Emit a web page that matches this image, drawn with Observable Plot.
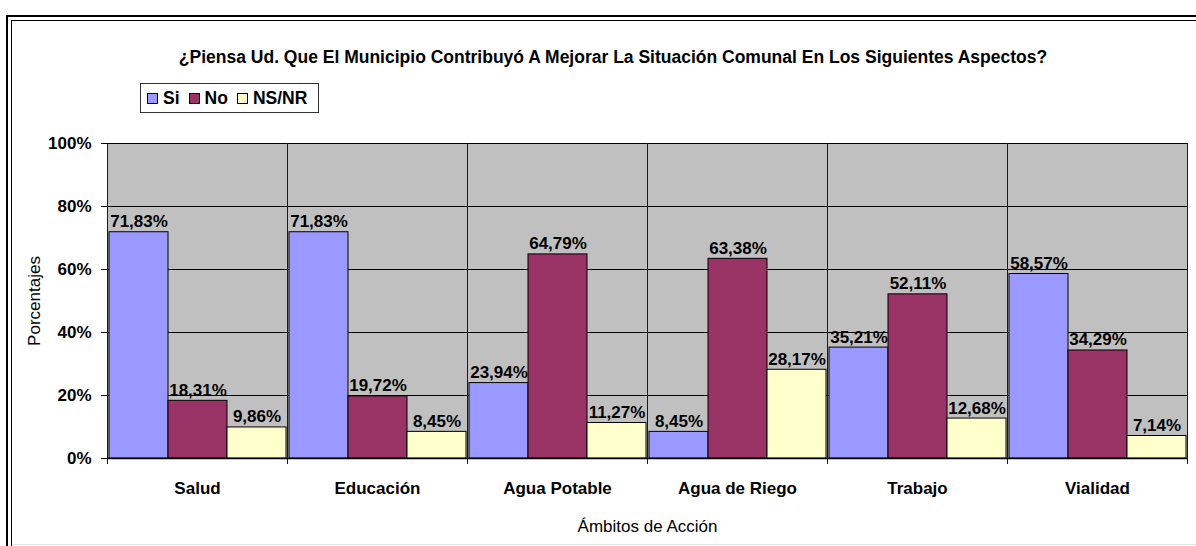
<!DOCTYPE html>
<html>
<head>
<meta charset="utf-8">
<script src="https://cdn.jsdelivr.net/npm/d3@7"></script>
<script src="https://cdn.jsdelivr.net/npm/@observablehq/plot@0.6"></script>
<style>
  html, body { margin: 0; padding: 0; background: #fff; }
  body { width: 1196px; height: 546px; position: relative; overflow: hidden; font-family: "Liberation Sans", Arial, sans-serif; }
  .outer { position: absolute; left: 6px; top: 15px; width: 1400px; height: 600px; border-top: 2px solid #000; border-left: 2px solid #000; }
  .inner { position: absolute; left: 11px; top: 20px; width: 1400px; height: 600px; border-top: 1px solid #000; border-left: 1px solid #000; }
  .bottomline { position: absolute; left: 12px; top: 544px; width: 1400px; height: 0; border-top: 1px solid #e4e4e4; }
  .title { position: absolute; left: 0; top: 47px; width: 1226px; text-align: center; font-weight: bold; font-size: 17.5px; color: #000; white-space: nowrap; }
  .legend { position: absolute; left: 140px; top: 83px; border: 1px solid #333; background: #fff; display: flex; align-items: center; padding-left: 6px; box-sizing: border-box; width: 179px; height: 30px; }
  .legend .item { display: flex; align-items: center; font-weight: bold; font-size: 17.5px; margin-right: 9px; }
  .legend .sw { width: 9px; height: 9px; border: 1px solid #000; margin-right: 5px; }
  #chart { position: absolute; left: 0; top: 125px; }
  #chart svg { overflow: visible; }
</style>
</head>
<body>
<div class="outer"></div>
<div class="inner"></div>
<div class="bottomline"></div>
<div class="title" id="title"></div>
<div class="legend" id="legend"></div>
<div id="chart"></div>
<script>
// ---- data ----
const categories = ["Salud", "Educación", "Agua Potable", "Agua de Riego", "Trabajo", "Vialidad"];
const series = ["Si", "No", "NS/NR"];
const siValues   = [71.83, 71.83, 23.94, 8.45, 35.21, 58.57];
const noValues   = [18.31, 19.72, 64.79, 63.38, 52.11, 34.29];
const nsnrValues = [9.86, 8.45, 11.27, 28.17, 12.68, 7.14];
const yTicks = [0, 20, 40, 60, 80, 100];
const seriesColors = ["#9999FF", "#993366", "#FFFFCC"];
const titleText = "¿Piensa Ud. Que El Municipio Contribuyó A Mejorar La Situación Comunal En Los Siguientes Aspectos?";
const xTitle = "Ámbitos de Acción";
const yTitle = "Porcentajes";

// ---- build table ----
const valuesBySeries = [siValues, noValues, nsnrValues];
const rows = [];
categories.forEach((c, i) => {
  series.forEach((s, j) => {
    rows.push({cat: c, serie: s, value: valuesBySeries[j][i] / 100});
  });
});
const fmt = v => (v * 100).toFixed(2).replace(".", ",") + "%";

document.getElementById("title").textContent = titleText;
const legend = document.getElementById("legend");
series.forEach((s, j) => {
  const it = document.createElement("div");
  it.className = "item";
  const sw = document.createElement("div");
  sw.className = "sw";
  sw.style.background = seriesColors[j];
  const tx = document.createElement("span");
  tx.textContent = s;
  it.appendChild(sw); it.appendChild(tx);
  legend.appendChild(it);
});

const chart = Plot.plot({
  width: 1196,
  height: 420,
  marginLeft: 106,
  marginRight: 9,
  marginTop: 18,
  marginBottom: 87,
  style: {fontFamily: "'Liberation Sans', Arial, sans-serif", color: "#000", background: "transparent"},
  fx: {domain: categories, padding: 0, label: null},
  x: {domain: series, paddingInner: 0, paddingOuter: 0.025, axis: null},
  y: {domain: [0, 1], label: null},
  color: {domain: series, range: seriesColors},
  marks: [
    Plot.frame({fill: "#C0C0C0", stroke: "#808080"}),
    Plot.gridY(yTicks.map(d => d / 100), {stroke: "#000", strokeOpacity: 1}),
    Plot.frame({anchor: "left", stroke: "#1a1a1a", insetBottom: -5}),
    Plot.frame({anchor: "right", stroke: "#1a1a1a", insetBottom: -5}),
    Plot.barY(rows, {fx: "cat", x: "serie", y: "value", fill: "serie", stroke: "#000", strokeWidth: 1}),
    Plot.text(rows, {fx: "cat", x: "serie", y: "value", text: d => fmt(d.value), lineAnchor: "bottom", dy: -5, fontWeight: "bold", fontSize: 17, fill: "#000"}),
    Plot.ruleY([0], {stroke: "#000", strokeWidth: 1.5}),
    Plot.axisY(yTicks.map(d => d / 100), {
      tickFormat: d => Math.round(d * 100) + "%",
      tickSize: 6, tickPadding: 10, fontSize: 17, fontWeight: "bold", stroke: "#000",
      label: yTitle, labelAnchor: "center", labelArrow: "none", labelOffset: 80
    }),
    Plot.ruleX([0], {stroke: "#000", strokeWidth: 1.5, facet: "exclude", fx: null}),
    Plot.axisFx({
      anchor: "bottom", tickSize: 0, tickPadding: 23, fontSize: 17, fontWeight: "bold",
      label: xTitle, labelAnchor: "center", labelArrow: "none", labelOffset: 73
    })
  ]
});
document.getElementById("chart").appendChild(chart);

// axis titles in regular weight
chart.querySelectorAll('g[aria-label="y-axis label"], g[aria-label="fx-axis label"]').forEach(g => {
  g.setAttribute("font-weight", "normal");
  g.setAttribute("font-size", "17");
  g.querySelectorAll("text").forEach(t => { t.setAttribute("font-weight", "normal"); t.setAttribute("font-size", "17"); });
});
</script>
</body>
</html>
